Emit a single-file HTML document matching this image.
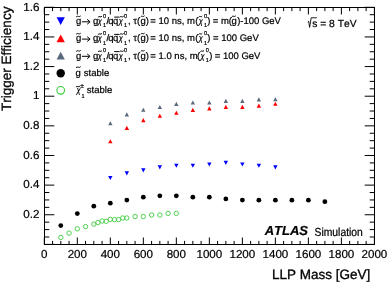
<!DOCTYPE html>
<html><head><meta charset="utf-8"><style>
html,body{margin:0;padding:0;background:#fff;overflow:hidden}
svg{display:block;will-change:transform}
text{font-family:"Liberation Sans",sans-serif;fill:#000;stroke:#000;stroke-width:0.22px;font-kerning:none;text-rendering:geometricPrecision}
.lab{font-size:11.6px}
.tt{stroke-width:0.32px}
</style></head><body>
<svg width="388" height="283" viewBox="0 0 388 283">
<rect x="44.5" y="7.5" width="330" height="237" fill="none" stroke="#000" stroke-width="1"/>
<path d="M44.30 244.5V237.50M44.30 7.5V14.50M52.55 244.5V240.90M52.55 7.5V11.10M60.80 244.5V240.90M60.80 7.5V11.10M69.06 244.5V240.90M69.06 7.5V11.10M77.31 244.5V237.50M77.31 7.5V14.50M85.56 244.5V240.90M85.56 7.5V11.10M93.81 244.5V240.90M93.81 7.5V11.10M102.07 244.5V240.90M102.07 7.5V11.10M110.32 244.5V237.50M110.32 7.5V14.50M118.57 244.5V240.90M118.57 7.5V11.10M126.82 244.5V240.90M126.82 7.5V11.10M135.08 244.5V240.90M135.08 7.5V11.10M143.33 244.5V237.50M143.33 7.5V14.50M151.58 244.5V240.90M151.58 7.5V11.10M159.83 244.5V240.90M159.83 7.5V11.10M168.09 244.5V240.90M168.09 7.5V11.10M176.34 244.5V237.50M176.34 7.5V14.50M184.59 244.5V240.90M184.59 7.5V11.10M192.84 244.5V240.90M192.84 7.5V11.10M201.10 244.5V240.90M201.10 7.5V11.10M209.35 244.5V237.50M209.35 7.5V14.50M217.60 244.5V240.90M217.60 7.5V11.10M225.85 244.5V240.90M225.85 7.5V11.10M234.11 244.5V240.90M234.11 7.5V11.10M242.36 244.5V237.50M242.36 7.5V14.50M250.61 244.5V240.90M250.61 7.5V11.10M258.86 244.5V240.90M258.86 7.5V11.10M267.12 244.5V240.90M267.12 7.5V11.10M275.37 244.5V237.50M275.37 7.5V14.50M283.62 244.5V240.90M283.62 7.5V11.10M291.87 244.5V240.90M291.87 7.5V11.10M300.13 244.5V240.90M300.13 7.5V11.10M308.38 244.5V237.50M308.38 7.5V14.50M316.63 244.5V240.90M316.63 7.5V11.10M324.88 244.5V240.90M324.88 7.5V11.10M333.14 244.5V240.90M333.14 7.5V11.10M341.39 244.5V237.50M341.39 7.5V14.50M349.64 244.5V240.90M349.64 7.5V11.10M357.89 244.5V240.90M357.89 7.5V11.10M366.15 244.5V240.90M366.15 7.5V11.10M374.40 244.5V237.50M374.40 7.5V14.50M44.5 244.40H54.30M374.5 244.40H364.70M44.5 236.99H49.30M374.5 236.99H369.70M44.5 229.58H49.30M374.5 229.58H369.70M44.5 222.17H49.30M374.5 222.17H369.70M44.5 214.76H54.30M374.5 214.76H364.70M44.5 207.35H49.30M374.5 207.35H369.70M44.5 199.94H49.30M374.5 199.94H369.70M44.5 192.53H49.30M374.5 192.53H369.70M44.5 185.12H54.30M374.5 185.12H364.70M44.5 177.72H49.30M374.5 177.72H369.70M44.5 170.31H49.30M374.5 170.31H369.70M44.5 162.90H49.30M374.5 162.90H369.70M44.5 155.49H54.30M374.5 155.49H364.70M44.5 148.08H49.30M374.5 148.08H369.70M44.5 140.67H49.30M374.5 140.67H369.70M44.5 133.26H49.30M374.5 133.26H369.70M44.5 125.85H54.30M374.5 125.85H364.70M44.5 118.44H49.30M374.5 118.44H369.70M44.5 111.03H49.30M374.5 111.03H369.70M44.5 103.62H49.30M374.5 103.62H369.70M44.5 96.21H54.30M374.5 96.21H364.70M44.5 88.80H49.30M374.5 88.80H369.70M44.5 81.39H49.30M374.5 81.39H369.70M44.5 73.98H49.30M374.5 73.98H369.70M44.5 66.57H54.30M374.5 66.57H364.70M44.5 59.17H49.30M374.5 59.17H369.70M44.5 51.76H49.30M374.5 51.76H369.70M44.5 44.35H49.30M374.5 44.35H369.70M44.5 36.94H54.30M374.5 36.94H364.70M44.5 29.53H49.30M374.5 29.53H369.70M44.5 22.12H49.30M374.5 22.12H369.70M44.5 14.71H49.30M374.5 14.71H369.70M44.5 7.30H54.30M374.5 7.30H364.70" stroke="#000" stroke-width="1" fill="none"/>
<text transform="translate(44.30 258.4)" class="lab" text-anchor="middle">0</text>
<text transform="translate(77.31 258.4)" class="lab" text-anchor="middle">200</text>
<text transform="translate(110.32 258.4)" class="lab" text-anchor="middle">400</text>
<text transform="translate(143.33 258.4)" class="lab" text-anchor="middle">600</text>
<text transform="translate(176.34 258.4)" class="lab" text-anchor="middle">800</text>
<text transform="translate(209.35 258.4)" class="lab" text-anchor="middle">1000</text>
<text transform="translate(242.36 258.4)" class="lab" text-anchor="middle">1200</text>
<text transform="translate(275.37 258.4)" class="lab" text-anchor="middle">1400</text>
<text transform="translate(308.38 258.4)" class="lab" text-anchor="middle">1600</text>
<text transform="translate(341.39 258.4)" class="lab" text-anchor="middle">1800</text>
<text transform="translate(374.40 258.4)" class="lab" text-anchor="middle">2000</text>
<text transform="translate(39.4 217.96)" class="lab" text-anchor="end">0.2</text>
<text transform="translate(39.4 188.32)" class="lab" text-anchor="end">0.4</text>
<text transform="translate(39.4 158.69)" class="lab" text-anchor="end">0.6</text>
<text transform="translate(39.4 129.05)" class="lab" text-anchor="end">0.8</text>
<text transform="translate(39.4 99.41)" class="lab" text-anchor="end">1</text>
<text transform="translate(39.4 69.77)" class="lab" text-anchor="end">1.2</text>
<text transform="translate(39.4 40.14)" class="lab" text-anchor="end">1.4</text>
<text transform="translate(39.4 10.50)" class="lab" text-anchor="end">1.6</text>
<text x="271.89" y="278.70" style="font-size:13.5px;" class="tt">LLP Mass [GeV]</text>
<text transform="translate(11.4 110.9) rotate(-90)" class="tt" style="font-size:13.5px">Trigger Efficiency</text>
<path fill="#5a6a7c" d="M108.12 125.25L110.32 121.15L112.52 125.25ZM124.62 116.45L126.82 112.35L129.02 116.45ZM141.13 111.85L143.33 107.75L145.53 111.85ZM157.63 109.05L159.83 104.95L162.03 109.05ZM174.14 105.95L176.34 101.85L178.54 105.95ZM190.64 104.55L192.84 100.45L195.04 104.55ZM207.15 104.55L209.35 100.45L211.55 104.55ZM223.65 102.95L225.85 98.85L228.05 102.95ZM240.16 102.95L242.36 98.85L244.56 102.95ZM256.66 101.45L258.86 97.35L261.06 101.45ZM273.17 101.35L275.37 97.25L277.57 101.35Z"/>
<path fill="#ff0000" d="M108.12 143.25L110.32 139.15L112.52 143.25ZM124.62 129.95L126.82 125.85L129.02 129.95ZM141.13 122.15L143.33 118.05L145.53 122.15ZM157.63 117.85L159.83 113.75L162.03 117.85ZM174.14 114.75L176.34 110.65L178.54 114.75ZM190.64 111.95L192.84 107.85L195.04 111.95ZM207.15 110.45L209.35 106.35L211.55 110.45ZM223.65 108.95L225.85 104.85L228.05 108.95ZM240.16 108.95L242.36 104.85L244.56 108.95ZM256.66 107.65L258.86 103.55L261.06 107.65ZM273.17 105.75L275.37 101.65L277.57 105.75Z"/>
<path fill="#0000ff" d="M108.12 175.95L110.32 180.05L112.52 175.95ZM124.62 171.35L126.82 175.45L129.02 171.35ZM141.13 168.35L143.33 172.45L145.53 168.35ZM157.63 165.35L159.83 169.45L162.03 165.35ZM174.14 163.75L176.34 167.85L178.54 163.75ZM190.64 163.75L192.84 167.85L195.04 163.75ZM207.15 162.45L209.35 166.55L211.55 162.45ZM223.65 160.85L225.85 164.95L228.05 160.85ZM240.16 162.45L242.36 166.55L244.56 162.45ZM256.66 163.75L258.86 167.85L261.06 163.75ZM273.17 165.35L275.37 169.45L277.57 165.35Z"/>
<circle cx="60.80" cy="225.6" r="2.4" fill="#000"/>
<circle cx="77.31" cy="213.6" r="2.4" fill="#000"/>
<circle cx="93.81" cy="206.2" r="2.4" fill="#000"/>
<circle cx="110.32" cy="203.2" r="2.4" fill="#000"/>
<circle cx="126.82" cy="200.1" r="2.4" fill="#000"/>
<circle cx="143.33" cy="197.2" r="2.4" fill="#000"/>
<circle cx="159.83" cy="195.8" r="2.4" fill="#000"/>
<circle cx="176.34" cy="195.8" r="2.4" fill="#000"/>
<circle cx="192.84" cy="197.2" r="2.4" fill="#000"/>
<circle cx="209.35" cy="197.2" r="2.4" fill="#000"/>
<circle cx="225.85" cy="198.9" r="2.4" fill="#000"/>
<circle cx="242.36" cy="200.1" r="2.4" fill="#000"/>
<circle cx="258.86" cy="200.2" r="2.4" fill="#000"/>
<circle cx="275.37" cy="200.2" r="2.4" fill="#000"/>
<circle cx="291.87" cy="200.2" r="2.4" fill="#000"/>
<circle cx="308.38" cy="200.2" r="2.4" fill="#000"/>
<circle cx="324.88" cy="201.7" r="2.4" fill="#000"/>
<circle cx="60.80" cy="237.4" r="2.2" fill="none" stroke="#40cc40" stroke-width="0.9"/>
<circle cx="69.06" cy="233.1" r="2.2" fill="none" stroke="#40cc40" stroke-width="0.9"/>
<circle cx="77.31" cy="228.8" r="2.2" fill="none" stroke="#40cc40" stroke-width="0.9"/>
<circle cx="85.56" cy="226.6" r="2.2" fill="none" stroke="#40cc40" stroke-width="0.9"/>
<circle cx="93.81" cy="224.1" r="2.2" fill="none" stroke="#40cc40" stroke-width="0.9"/>
<circle cx="97.94" cy="222.6" r="2.2" fill="none" stroke="#40cc40" stroke-width="0.9"/>
<circle cx="102.07" cy="221.0" r="2.2" fill="none" stroke="#40cc40" stroke-width="0.9"/>
<circle cx="106.19" cy="221.3" r="2.2" fill="none" stroke="#40cc40" stroke-width="0.9"/>
<circle cx="110.32" cy="219.4" r="2.2" fill="none" stroke="#40cc40" stroke-width="0.9"/>
<circle cx="114.45" cy="219.6" r="2.2" fill="none" stroke="#40cc40" stroke-width="0.9"/>
<circle cx="118.57" cy="219.6" r="2.2" fill="none" stroke="#40cc40" stroke-width="0.9"/>
<circle cx="122.70" cy="218.0" r="2.2" fill="none" stroke="#40cc40" stroke-width="0.9"/>
<circle cx="126.82" cy="218.0" r="2.2" fill="none" stroke="#40cc40" stroke-width="0.9"/>
<circle cx="135.08" cy="216.5" r="2.2" fill="none" stroke="#40cc40" stroke-width="0.9"/>
<circle cx="143.33" cy="216.5" r="2.2" fill="none" stroke="#40cc40" stroke-width="0.9"/>
<circle cx="151.58" cy="215.0" r="2.2" fill="none" stroke="#40cc40" stroke-width="0.9"/>
<circle cx="159.83" cy="215.0" r="2.2" fill="none" stroke="#40cc40" stroke-width="0.9"/>
<circle cx="168.09" cy="213.4" r="2.2" fill="none" stroke="#40cc40" stroke-width="0.9"/>
<circle cx="176.34" cy="213.4" r="2.2" fill="none" stroke="#40cc40" stroke-width="0.9"/>
<path fill="#0000ff" d="M56.55 17.20L60.70 25.00L64.85 17.20Z"/>
<path fill="#ff0000" d="M56.55 42.30L60.70 34.50L64.85 42.30Z"/>
<path fill="#5a6a7c" d="M56.55 59.60L60.70 51.80L64.85 59.60Z"/>
<circle cx="60.7" cy="73.3" r="4.2" fill="#000"/>
<circle cx="60.7" cy="90.3" r="3.8" fill="none" stroke="#33cc33" stroke-width="1.1"/>
<text x="75.90" y="24.00" style="font-size:9.5px;">g</text>
<text x="92.90" y="24.00" style="font-size:9.5px;">g</text>
<text transform="translate(97.64 24.00) scale(0.82 1)" style="font-size:9.0px;font-style:italic">χ</text>
<text x="102.88" y="17.70" style="font-size:5.6px;stroke-width:0.2px;">0</text>
<text x="102.97" y="27.40" style="font-size:5.6px;stroke-width:0.2px;">1</text>
<text x="106.40" y="24.00" style="font-size:9.5px;">/</text>
<text x="108.30" y="24.00" style="font-size:9.5px;">q</text>
<text x="112.90" y="24.00" style="font-size:9.5px;">q</text>
<text transform="translate(118.84 24.00) scale(0.82 1)" style="font-size:9.0px;font-style:italic">χ</text>
<text x="123.88" y="17.70" style="font-size:5.6px;stroke-width:0.2px;">0</text>
<text x="123.97" y="27.40" style="font-size:5.6px;stroke-width:0.2px;">1</text>
<text x="127.95" y="24.00" style="font-size:9.5px;">,</text>
<text x="133.27" y="24.00" style="font-size:9.5px;">τ</text>
<text x="136.91" y="24.00" style="font-size:9.5px;">(</text>
<text x="140.40" y="24.00" style="font-size:9.5px;">g</text>
<text x="145.74" y="24.00" style="font-size:9.5px;">)</text>
<text x="150.34" y="24.00" style="font-size:9.5px;">= 10 ns, m</text>
<text x="195.21" y="24.00" style="font-size:9.5px;">(</text>
<text transform="translate(198.64 24.00) scale(0.82 1)" style="font-size:9.0px;font-style:italic">χ</text>
<text x="203.88" y="17.70" style="font-size:5.6px;stroke-width:0.2px;">0</text>
<text x="203.97" y="27.40" style="font-size:5.6px;stroke-width:0.2px;">1</text>
<text x="207.34" y="24.00" style="font-size:9.5px;">)</text>
<text x="212.74" y="24.00" style="font-size:9.5px;">= m(</text>
<text x="231.40" y="24.00" style="font-size:9.5px;">g</text>
<text x="237.14" y="24.00" style="font-size:9.5px;">)-100 GeV</text>
<text x="75.90" y="41.30" style="font-size:9.5px;">g</text>
<text x="92.90" y="41.30" style="font-size:9.5px;">g</text>
<text transform="translate(97.64 41.30) scale(0.82 1)" style="font-size:9.0px;font-style:italic">χ</text>
<text x="102.88" y="35.00" style="font-size:5.6px;stroke-width:0.2px;">0</text>
<text x="102.97" y="44.70" style="font-size:5.6px;stroke-width:0.2px;">1</text>
<text x="106.40" y="41.30" style="font-size:9.5px;">/</text>
<text x="108.30" y="41.30" style="font-size:9.5px;">q</text>
<text x="112.90" y="41.30" style="font-size:9.5px;">q</text>
<text transform="translate(118.84 41.30) scale(0.82 1)" style="font-size:9.0px;font-style:italic">χ</text>
<text x="123.88" y="35.00" style="font-size:5.6px;stroke-width:0.2px;">0</text>
<text x="123.97" y="44.70" style="font-size:5.6px;stroke-width:0.2px;">1</text>
<text x="127.95" y="41.30" style="font-size:9.5px;">,</text>
<text x="133.27" y="41.30" style="font-size:9.5px;">τ</text>
<text x="136.91" y="41.30" style="font-size:9.5px;">(</text>
<text x="140.40" y="41.30" style="font-size:9.5px;">g</text>
<text x="145.74" y="41.30" style="font-size:9.5px;">)</text>
<text x="150.34" y="41.30" style="font-size:9.5px;">= 10 ns, m</text>
<text x="195.21" y="41.30" style="font-size:9.5px;">(</text>
<text transform="translate(198.64 41.30) scale(0.82 1)" style="font-size:9.0px;font-style:italic">χ</text>
<text x="203.88" y="35.00" style="font-size:5.6px;stroke-width:0.2px;">0</text>
<text x="203.97" y="44.70" style="font-size:5.6px;stroke-width:0.2px;">1</text>
<text x="207.34" y="41.30" style="font-size:9.5px;">)</text>
<text x="213.04" y="41.30" style="font-size:9.5px;">= 100 GeV</text>
<text x="75.90" y="58.50" style="font-size:9.5px;">g</text>
<text x="92.90" y="58.50" style="font-size:9.5px;">g</text>
<text transform="translate(97.64 58.50) scale(0.82 1)" style="font-size:9.0px;font-style:italic">χ</text>
<text x="102.88" y="52.20" style="font-size:5.6px;stroke-width:0.2px;">0</text>
<text x="102.97" y="61.90" style="font-size:5.6px;stroke-width:0.2px;">1</text>
<text x="106.40" y="58.50" style="font-size:9.5px;">/</text>
<text x="108.30" y="58.50" style="font-size:9.5px;">q</text>
<text x="112.90" y="58.50" style="font-size:9.5px;">q</text>
<text transform="translate(118.84 58.50) scale(0.82 1)" style="font-size:9.0px;font-style:italic">χ</text>
<text x="123.88" y="52.20" style="font-size:5.6px;stroke-width:0.2px;">0</text>
<text x="123.97" y="61.90" style="font-size:5.6px;stroke-width:0.2px;">1</text>
<text x="127.95" y="58.50" style="font-size:9.5px;">,</text>
<text x="133.27" y="58.50" style="font-size:9.5px;">τ</text>
<text x="136.91" y="58.50" style="font-size:9.5px;">(</text>
<text x="140.40" y="58.50" style="font-size:9.5px;">g</text>
<text x="145.74" y="58.50" style="font-size:9.5px;">)</text>
<text x="150.34" y="58.50" style="font-size:9.5px;">= 1.0 ns, m</text>
<text x="197.01" y="58.50" style="font-size:9.5px;">(</text>
<text transform="translate(200.44 58.50) scale(0.82 1)" style="font-size:9.0px;font-style:italic">χ</text>
<text x="205.68" y="52.20" style="font-size:5.6px;stroke-width:0.2px;">0</text>
<text x="205.77" y="61.90" style="font-size:5.6px;stroke-width:0.2px;">1</text>
<text x="209.14" y="58.50" style="font-size:9.5px;">)</text>
<text x="214.74" y="58.50" style="font-size:9.5px;">= 100 GeV</text>
<text x="75.60" y="75.60" style="font-size:9.5px;">g</text>
<text x="83.84" y="75.60" style="font-size:9.5px;">stable</text>
<text transform="translate(76.44 93.00) scale(0.82 1)" style="font-size:9.0px;font-style:italic">χ</text>
<text x="80.29" y="87.50" style="font-size:6.6px;stroke-width:0.2px;">±</text>
<text x="81.47" y="97.60" style="font-size:5.6px;stroke-width:0.2px;">1</text>
<text x="86.84" y="93.00" style="font-size:9.5px;">stable</text>
<path d="M76.20 16.90C77.78 15.10 79.12 17.70 80.70 15.90M81.90 21.80H89.50M87.20 19.40L90.10 21.80L87.20 24.20M98.10 17.20C99.43 15.40 100.57 18.00 101.90 16.20M114.20 17.10H119.40M119.70 17.20C121.10 15.40 122.30 18.00 123.70 16.20M140.80 16.80C142.13 15.00 143.27 17.60 144.60 15.80M198.60 17.10C199.86 15.30 200.94 17.90 202.20 16.10M231.80 16.80C233.20 15.00 234.40 17.60 235.80 15.80M76.20 34.20C77.78 32.40 79.12 35.00 80.70 33.20M81.90 39.10H89.50M87.20 36.70L90.10 39.10L87.20 41.50M98.10 34.50C99.43 32.70 100.57 35.30 101.90 33.50M114.20 34.40H119.40M119.70 34.50C121.10 32.70 122.30 35.30 123.70 33.50M140.80 34.10C142.13 32.30 143.27 34.90 144.60 33.10M198.60 34.40C199.86 32.60 200.94 35.20 202.20 33.40M76.20 51.40C77.78 49.60 79.12 52.20 80.70 50.40M81.90 56.30H89.50M87.20 53.90L90.10 56.30L87.20 58.70M98.10 51.70C99.43 49.90 100.57 52.50 101.90 50.70M114.20 51.60H119.40M119.70 51.70C121.10 49.90 122.30 52.50 123.70 50.70M140.80 51.30C142.13 49.50 143.27 52.10 144.60 50.30M200.40 51.60C201.66 49.80 202.74 52.40 204.00 50.60M76.00 67.70C77.61 65.90 78.99 68.50 80.60 66.70M75.90 87.10C77.30 85.30 78.50 87.90 79.90 86.10" fill="none" stroke="#000" stroke-width="1.0"/>
<path d="M307.7 22.0L308.7 21.3L309.6 27.4L311.2 17.8H316.8" fill="none" stroke="#000" stroke-width="0.9"/>
<text x="312.21" y="26.80" style="font-size:10.3px;">s = 8 TeV</text>
<text x="264.67" y="235.40" style="font-size:13.0px;font-style:italic;font-weight:bold;">ATLAS</text>
<text transform="translate(314.53 236.0) scale(1 1.13)" style="font-size:10.35px">Simulation</text>
</svg>
</body></html>
